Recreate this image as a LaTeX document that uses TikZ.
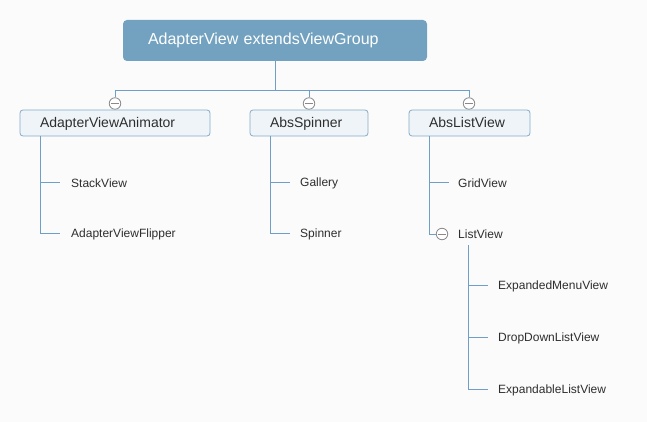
\documentclass[tikz,border=0pt]{standalone}
\usepackage{fontspec}
\setmainfont{Liberation Sans}
\definecolor{bgc}{HTML}{FBFBFB}
\definecolor{rootc}{HTML}{73A2C1}
\definecolor{linec}{HTML}{6F9EC6}
\definecolor{boxfill}{HTML}{EFF4F8}
\definecolor{boxdraw}{HTML}{86ABC8}
\definecolor{txtc}{HTML}{2E2E2E}
\definecolor{circc}{HTML}{8A8A8A}
\begin{document}
\begin{tikzpicture}[x=1pt,y=-1pt,
  rootbox/.style={draw=none,fill=rootc,rounded corners=4pt,minimum height=41pt,inner ysep=0pt,inner xsep=25pt,align=left,text=white,font=\fontsize{16}{18}\selectfont,text height=12pt,text depth=3pt},
  midbox/.style={draw=boxdraw,fill=boxfill,rounded corners=3pt,minimum height=26pt,inner ysep=0pt,inner xsep=20pt,align=left,text=txtc,font=\fontsize{14}{16}\selectfont,line width=0.8pt,text height=11.5pt,text depth=2pt},
  leaf/.style={anchor=west,inner sep=0pt,text=txtc,font=\fontsize{12}{14}\selectfont},
  conn/.style={draw=linec,line width=0.8pt},
  toggle/.style={circle,draw=circc,fill=white,minimum size=11.5pt,inner sep=0pt,line width=0.8pt,
    path picture={\draw[circc,line width=0.8pt] ([xshift=1.5pt]path picture bounding box.west) -- ([xshift=-1.5pt]path picture bounding box.east);}}
]
\fill[bgc] (0,0) rectangle (647,422);
\useasboundingbox (0,0) rectangle (647,422);

% root
\node[rootbox,text width=254pt] (root) at (275,40.5) {AdapterView extendsViewGroup};

% bus
\coordinate (bus) at (275,90);
\coordinate (busL) at (115,90);
\coordinate (busM) at (309,90);
\coordinate (busR) at (469,90);

% toggles
\node[toggle] (t1) at (115,103.5) {};
\node[toggle] (t2) at (309,103.5) {};
\node[toggle] (t3) at (469,103.5) {};

% mid boxes
\node[midbox,text width=150pt] (ava) at (115,123) {AdapterViewAnimator};
\node[midbox,text width=78pt] (abs) at (309,123) {AbsSpinner};
\node[midbox,text width=81pt] (alv) at (469.5,123) {AbsListView};

\draw[conn] (root.south) -- (bus);
\draw[conn] (busL) -- (busR);
\draw[conn] (busL) -- (t1.north);
\draw[conn] (busM) -- (t2.north);
\draw[conn] (busR) -- (t3.north);

% leaves
\node[leaf] (stack) at (71,183) {StackView};
\node[leaf] (flip) at (71,234) {AdapterViewFlipper};
\node[leaf] (gal) at (300,183) {Gallery};
\node[leaf] (spin) at (300,234) {Spinner};
\node[leaf] (grid) at (458,183) {GridView};
\node[leaf] (lv) at (458,234) {ListView};
\node[toggle] (t4) at (442,234) {};
\node[leaf] (emv) at (498,286) {ExpandedMenuView};
\node[leaf] (ddl) at (498,338) {DropDownListView};
\node[leaf] (elv) at (498,390) {ExpandableListView};

% left tree
\coordinate (a0) at (40,136);
\coordinate (a2) at (40,233);
\draw[conn] (a0) -- (a2) -- ([xshift=-11pt]flip.west |- a2);
\draw[conn] (40,182) -- ([xshift=-11pt]stack.west |- 40,182);

% middle tree
\coordinate (b0) at (270,136);
\coordinate (b2) at (270,233);
\draw[conn] (b0) -- (b2) -- ([xshift=-10pt]spin.west |- b2);
\draw[conn] (270,182) -- ([xshift=-10pt]gal.west |- 270,182);

% right tree
\coordinate (c0) at (429,136);
\coordinate (c2) at (429,234);
\draw[conn] (c0) -- (c2) -- (t4.west);
\draw[conn] (429,182) -- ([xshift=-9pt]grid.west |- 429,182);

% listview subtree
\coordinate (d0) at (468,245);
\coordinate (d3) at (468,389);
\draw[conn] (d0) -- (d3) -- ([xshift=-10pt]elv.west |- d3);
\draw[conn] (468,285) -- ([xshift=-10pt]emv.west |- 468,285);
\draw[conn] (468,337) -- ([xshift=-10pt]ddl.west |- 468,337);
\end{tikzpicture}
\end{document}
